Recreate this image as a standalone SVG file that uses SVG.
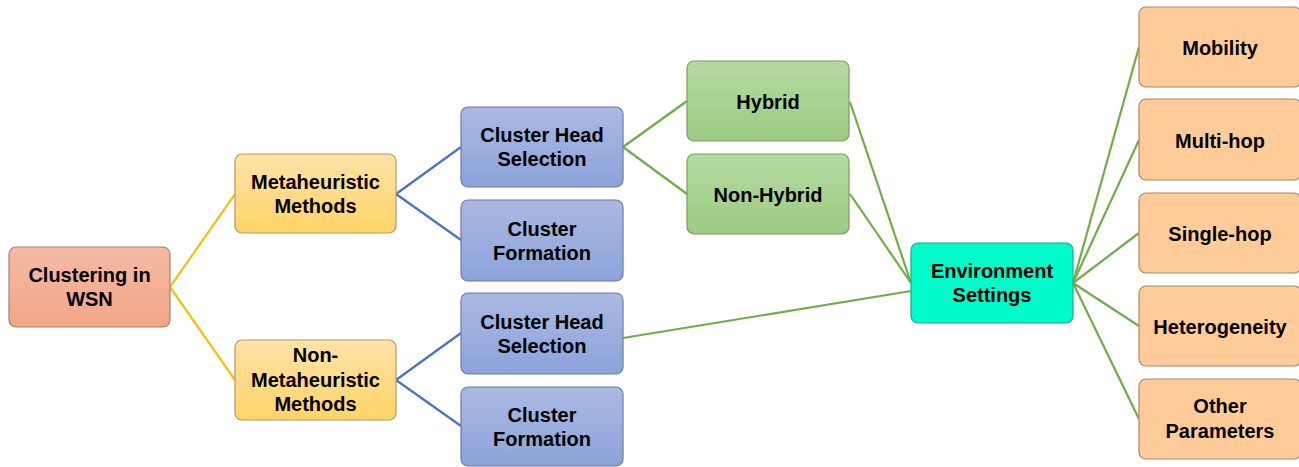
<svg xmlns="http://www.w3.org/2000/svg" width="1299" height="467" viewBox="0 0 1299 467">
<defs>
<linearGradient id="gRed" x1="0" y1="0" x2="0" y2="1"><stop offset="0" stop-color="#F3BBA6"/><stop offset="1" stop-color="#F3A586"/></linearGradient>
<linearGradient id="gYel" x1="0" y1="0" x2="0" y2="1"><stop offset="0" stop-color="#FFE2A8"/><stop offset="1" stop-color="#FFD468"/></linearGradient>
<linearGradient id="gBlu" x1="0" y1="0" x2="0" y2="1"><stop offset="0" stop-color="#AAB9E2"/><stop offset="1" stop-color="#8CA3DA"/></linearGradient>
<linearGradient id="gGrn" x1="0" y1="0" x2="0" y2="1"><stop offset="0" stop-color="#B5DAA2"/><stop offset="1" stop-color="#9CCB80"/></linearGradient>
</defs>
<style>
rect{stroke-width:1.2}
.red{fill:url(#gRed);stroke:#A08478}
.yel{fill:url(#gYel);stroke:#B39A5E}
.blu{fill:url(#gBlu);stroke:#6B7BA6}
.grn{fill:url(#gGrn);stroke:#7C9A68}
.env{fill:#00FBCB;stroke:#1FA88B}
.org{fill:#FFCC99;stroke:#A8876A}
text{font-family:"Liberation Sans",Arial,sans-serif;font-weight:bold;font-size:20px;fill:#000;text-anchor:middle}
.c line{stroke-width:2.2;fill:none}
.cy line{stroke:#F5C013}
.cb line{stroke:#4A72C0}
.cg line{stroke:#70AD47}
</style>
<g id="connectors" class="c">
<g class="cy">
<line x1="170" y1="287" x2="235" y2="194"/>
<line x1="170" y1="287" x2="235" y2="380"/>
</g>
<g class="cb">
<line x1="396" y1="194" x2="461" y2="147"/>
<line x1="396" y1="194" x2="461" y2="240"/>
<line x1="396" y1="380" x2="461" y2="333"/>
<line x1="396" y1="380" x2="461" y2="426"/>
</g>
<g class="cg">
<line x1="623" y1="147" x2="687" y2="101"/>
<line x1="623" y1="147" x2="687" y2="194"/>
<line x1="850" y1="102" x2="911" y2="283"/>
<line x1="850" y1="194" x2="911" y2="283"/>
<line x1="623" y1="338" x2="911" y2="291"/>
<line x1="1073" y1="283" x2="1139" y2="47"/>
<line x1="1073" y1="283" x2="1139" y2="140"/>
<line x1="1073" y1="283" x2="1139" y2="233"/>
<line x1="1073" y1="283" x2="1139" y2="326"/>
<line x1="1073" y1="283" x2="1139" y2="419"/>
</g>
</g>
<g id="clustering"><rect class="red" x="9" y="247" width="161" height="80" rx="7"/><text x="89.5" y="282">Clustering in</text><text x="89.5" y="306">WSN</text></g>
<g id="meta"><rect class="yel" x="235" y="154" width="161" height="79" rx="7"/><text x="315.5" y="189">Metaheuristic</text><text x="315.5" y="213">Methods</text></g>
<g id="nonmeta"><rect class="yel" x="235" y="340" width="161" height="80" rx="7"/><text x="315.5" y="362">Non-</text><text x="315.5" y="386.5">Metaheuristic</text><text x="315.5" y="411">Methods</text></g>
<g id="chs1"><rect class="blu" x="461" y="107" width="162" height="80" rx="7"/><text x="542" y="142">Cluster Head</text><text x="542" y="166">Selection</text></g>
<g id="cf1"><rect class="blu" x="461" y="200" width="162" height="81" rx="7"/><text x="542" y="235.5">Cluster</text><text x="542" y="259.5">Formation</text></g>
<g id="chs2"><rect class="blu" x="461" y="293" width="162" height="81" rx="7"/><text x="542" y="328.5">Cluster Head</text><text x="542" y="352.5">Selection</text></g>
<g id="cf2"><rect class="blu" x="461" y="387" width="162" height="79" rx="7"/><text x="542" y="421.5">Cluster</text><text x="542" y="445.5">Formation</text></g>
<g id="hybrid"><rect class="grn" x="687" y="61" width="162" height="80" rx="7"/><text x="768" y="108.5">Hybrid</text></g>
<g id="nonhybrid"><rect class="grn" x="687" y="154" width="162" height="80" rx="7"/><text x="768" y="201.5">Non-Hybrid</text></g>
<g id="env"><rect class="env" x="911" y="243" width="162" height="80" rx="7"/><text x="992" y="277.5">Environment</text><text x="992" y="302">Settings</text></g>
<g id="mobility"><rect class="org" x="1139" y="7" width="162" height="80" rx="7"/><text x="1220" y="54.5">Mobility</text></g>
<g id="multihop"><rect class="org" x="1139" y="99" width="162" height="81" rx="7"/><text x="1220" y="147.5">Multi-hop</text></g>
<g id="singlehop"><rect class="org" x="1139" y="193" width="162" height="80" rx="7"/><text x="1220" y="240.5">Single-hop</text></g>
<g id="hetero"><rect class="org" x="1139" y="286" width="162" height="80" rx="7"/><text x="1220" y="333.5">Heterogeneity</text></g>
<g id="other"><rect class="org" x="1139" y="379" width="162" height="80" rx="7"/><text x="1220" y="413">Other</text><text x="1220" y="437.5">Parameters</text></g>
</svg>
